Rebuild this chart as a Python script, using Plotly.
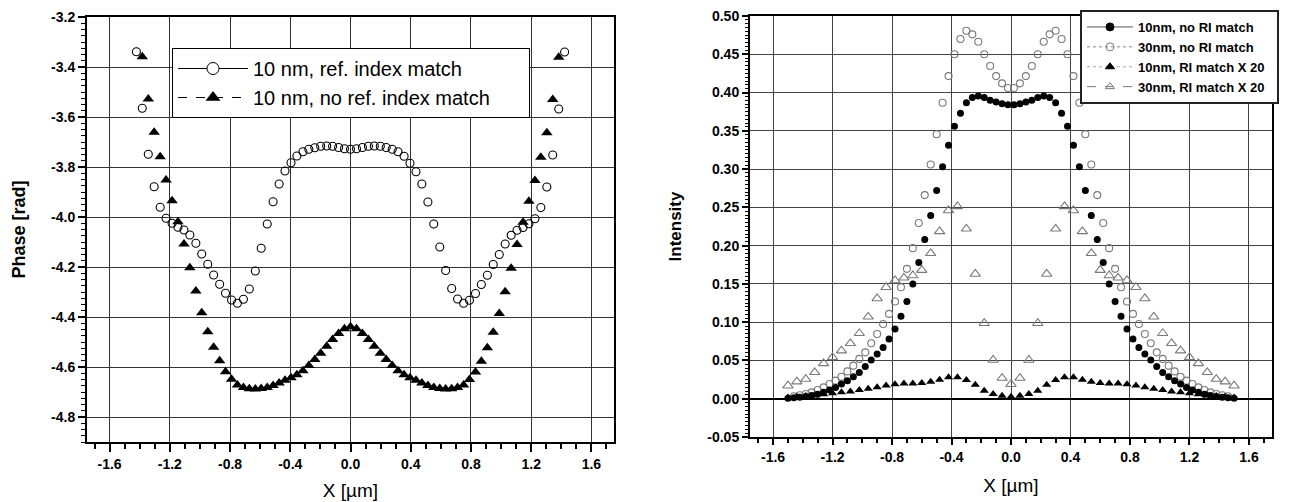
import plotly.graph_objects as go

# ---------------- data: left panel (phase) ----------------
XL_CIRC = [-1.422, -1.383, -1.343, -1.304, -1.264, -1.225, -1.185, -1.146, -1.106, -1.067,
           -1.027, -0.988, -0.948, -0.909, -0.869, -0.830, -0.790, -0.751, -0.711, -0.672,
           -0.632, -0.593, -0.553, -0.514, -0.474, -0.435, -0.395, -0.356, -0.316, -0.277,
           -0.237, -0.198, -0.158, -0.119, -0.079, -0.040, 0.000, 0.040, 0.079, 0.119,
           0.158, 0.198, 0.237, 0.277, 0.316, 0.356, 0.395, 0.435, 0.474, 0.514,
           0.553, 0.593, 0.632, 0.672, 0.711, 0.751, 0.790, 0.830, 0.869, 0.909,
           0.948, 0.988, 1.027, 1.067, 1.106, 1.146, 1.185, 1.225, 1.264, 1.304,
           1.343, 1.383, 1.422]
YL_CIRC = [-3.339, -3.565, -3.749, -3.879, -3.961, -4.005, -4.025, -4.041, -4.052, -4.072,
           -4.105, -4.148, -4.189, -4.232, -4.269, -4.305, -4.332, -4.345, -4.329, -4.288,
           -4.216, -4.125, -4.028, -3.939, -3.868, -3.816, -3.783, -3.756, -3.739, -3.729,
           -3.723, -3.717, -3.716, -3.717, -3.722, -3.727, -3.729, -3.727, -3.722, -3.717,
           -3.716, -3.717, -3.722, -3.729, -3.739, -3.757, -3.785, -3.819, -3.868, -3.940,
           -4.028, -4.120, -4.214, -4.286, -4.328, -4.345, -4.333, -4.306, -4.270, -4.233,
           -4.190, -4.150, -4.108, -4.073, -4.053, -4.042, -4.027, -4.007, -3.962, -3.880,
           -3.752, -3.568, -3.340]

XL_TRI = [-1.383, -1.343, -1.304, -1.264, -1.225, -1.185, -1.146, -1.106, -1.067,
          -1.027, -0.988, -0.948, -0.909, -0.869, -0.830, -0.790, -0.751, -0.711, -0.672,
          -0.632, -0.593, -0.553, -0.514, -0.474, -0.435, -0.395, -0.356, -0.316, -0.277,
          -0.237, -0.198, -0.158, -0.119, -0.079, -0.040, 0.000, 0.040, 0.079, 0.119,
          0.158, 0.198, 0.237, 0.277, 0.316, 0.356, 0.395, 0.435, 0.474, 0.514,
          0.553, 0.593, 0.632, 0.672, 0.711, 0.751, 0.790, 0.830, 0.869, 0.909,
          0.948, 0.988, 1.027, 1.067, 1.106, 1.146, 1.185, 1.225, 1.264, 1.304,
          1.343, 1.383]
YL_TRI = [-3.359, -3.528, -3.661, -3.759, -3.852, -3.935, -4.019, -4.108, -4.203, -4.296,
          -4.383, -4.459, -4.521, -4.575, -4.619, -4.649, -4.672, -4.682, -4.687, -4.688,
          -4.686, -4.682, -4.674, -4.664, -4.653, -4.643, -4.631, -4.615, -4.594, -4.570,
          -4.545, -4.517, -4.490, -4.466, -4.447, -4.439, -4.447, -4.466, -4.490, -4.517,
          -4.545, -4.570, -4.594, -4.615, -4.631, -4.643, -4.653, -4.664, -4.674, -4.682,
          -4.686, -4.688, -4.687, -4.682, -4.672, -4.650, -4.620, -4.577, -4.523, -4.461,
          -4.386, -4.299, -4.205, -4.110, -4.021, -3.937, -3.854, -3.761, -3.663, -3.530,
          -3.361]

L_NAMES = ["10 nm, ref. index match", "10 nm, no ref. index match"]
L_XTICKS = [-1.6, -1.2, -0.8, -0.4, 0.0, 0.4, 0.8, 1.2, 1.6]
L_XTEXT = ["-1.6", "-1.2", "-0.8", "-0.4", "0.0", "0.4", "0.8", "1.2", "1.6"]
L_YTICKS = [-4.8, -4.6, -4.4, -4.2, -4.0, -3.8, -3.6, -3.4, -3.2]
L_YTEXT = ["-4.8", "-4.6", "-4.4", "-4.2", "-4.0", "-3.8", "-3.6", "-3.4", "-3.2"]

# ---------------- data: right panel (intensity) ----------------
XR_DOT = [-1.50, -1.46, -1.42, -1.38, -1.34, -1.30, -1.26, -1.22, -1.18, -1.14, -1.10, -1.06,
          -1.02, -0.98, -0.94, -0.90, -0.86, -0.82, -0.78, -0.74, -0.70, -0.66, -0.62, -0.58,
          -0.54, -0.50, -0.46, -0.42, -0.38, -0.34, -0.30, -0.26, -0.22, -0.18, -0.14, -0.10,
          -0.06, -0.02, 0.02, 0.06, 0.10, 0.14, 0.18, 0.22, 0.26, 0.30, 0.34, 0.38, 0.42,
          0.46, 0.50, 0.54, 0.58, 0.62, 0.66, 0.70, 0.74, 0.78, 0.82, 0.86, 0.90, 0.94, 0.98,
          1.02, 1.06, 1.10, 1.14, 1.18, 1.22, 1.26, 1.30, 1.34, 1.38, 1.42, 1.46, 1.50]
YR_10_NORI = [0.0005, 0.0012, 0.002, 0.003, 0.0042, 0.0058, 0.0083, 0.0113, 0.0148, 0.0192,
              0.0236, 0.0288, 0.0344, 0.042, 0.0506, 0.0585, 0.067, 0.078, 0.0912, 0.1077,
              0.127, 0.150, 0.178, 0.208, 0.2395, 0.272, 0.303, 0.331, 0.356, 0.373,
              0.3866, 0.3935, 0.3955, 0.3935, 0.390, 0.3875, 0.3853, 0.384,
              0.384, 0.3853, 0.3875, 0.390, 0.3935, 0.3955, 0.3935, 0.3866, 0.373, 0.356,
              0.331, 0.303, 0.272, 0.2395, 0.208, 0.178, 0.150, 0.127, 0.1077, 0.0912,
              0.078, 0.067, 0.0585, 0.0506, 0.042, 0.0344, 0.0288, 0.0236, 0.0192, 0.0148,
              0.0113, 0.0083, 0.0058, 0.0042, 0.003, 0.002, 0.0012, 0.0005]

XR_OC = [-1.46, -1.42, -1.38, -1.34, -1.30, -1.26, -1.22, -1.18, -1.14, -1.10, -1.06,
         -1.02, -0.98, -0.94, -0.90, -0.86, -0.82, -0.78, -0.74, -0.70, -0.66, -0.62, -0.58,
         -0.54, -0.50, -0.46, -0.42, -0.38, -0.34, -0.30, -0.26, -0.22, -0.18, -0.14, -0.10,
         -0.06, -0.02, 0.02, 0.06, 0.10, 0.14, 0.18, 0.22, 0.26, 0.30, 0.34, 0.38, 0.42,
         0.46, 0.50, 0.54, 0.58, 0.62, 0.66, 0.70, 0.74, 0.78, 0.82, 0.86, 0.90, 0.94, 0.98,
         1.02, 1.06, 1.10, 1.14, 1.18, 1.22, 1.26, 1.30, 1.34, 1.38, 1.42, 1.46]
YR_30_NORI = [0.0033, 0.0045, 0.0061, 0.0083, 0.0114, 0.0148, 0.0192, 0.0236, 0.0288, 0.0357,
              0.0432, 0.052, 0.0606, 0.0724, 0.0846, 0.0977, 0.1108, 0.127, 0.1457, 0.1697,
              0.1967, 0.2295, 0.266, 0.306, 0.3455, 0.3866, 0.4215, 0.450, 0.470, 0.4808,
              0.476, 0.4664, 0.450, 0.4346, 0.4215, 0.412, 0.406,
              0.406, 0.412, 0.4215, 0.4346, 0.450, 0.4664, 0.476, 0.4808, 0.470, 0.450,
              0.4215, 0.3866, 0.3455, 0.306, 0.266, 0.2295, 0.1967, 0.1697, 0.1457, 0.127,
              0.1108, 0.0977, 0.0846, 0.0724, 0.0606, 0.052, 0.0432, 0.0357, 0.0288, 0.0236,
              0.0192, 0.0148, 0.0114, 0.0083, 0.0061, 0.0045, 0.0033]

XR_TRI = [-1.50, -1.44, -1.38, -1.32, -1.26, -1.20, -1.14, -1.08, -1.02, -0.96, -0.90, -0.84,
          -0.78, -0.72, -0.66, -0.60, -0.54, -0.48, -0.42, -0.36, -0.30, -0.24, -0.18, -0.12,
          -0.06, 0.00, 0.06, 0.12, 0.18, 0.24, 0.30, 0.36, 0.42, 0.48, 0.54, 0.60, 0.66, 0.72,
          0.78, 0.84, 0.90, 0.96, 1.02, 1.08, 1.14, 1.20, 1.26, 1.32, 1.38, 1.44, 1.50]
YR_10_RI = [0.0015, 0.0025, 0.0036, 0.0045, 0.0058, 0.0070, 0.0083, 0.0096, 0.0114, 0.0130,
            0.0150, 0.0172, 0.0190, 0.0198, 0.0200, 0.0205, 0.0222, 0.0247, 0.0279, 0.0282,
            0.0245, 0.0183, 0.0105, 0.0061, 0.0039, 0.0026, 0.0039, 0.0061, 0.0105, 0.0183,
            0.0245, 0.0282, 0.0279, 0.0247, 0.0222, 0.0205, 0.0200, 0.0198, 0.0190, 0.0172,
            0.0150, 0.0130, 0.0114, 0.0096, 0.0083, 0.0070, 0.0058, 0.0045, 0.0036, 0.0025,
            0.0015]
YR_30_RI = [0.017, 0.0223, 0.0257, 0.0345, 0.0462, 0.054, 0.0628, 0.0724, 0.0855, 0.107,
            0.131, 0.1457, 0.1545, 0.158, 0.161, 0.168, 0.190, 0.2186, 0.246, 0.2513,
            0.222, 0.163, 0.0986, 0.0506, 0.027, 0.019, 0.027, 0.0506, 0.0986, 0.163,
            0.222, 0.2513, 0.246, 0.2186, 0.190, 0.168, 0.161, 0.158, 0.1545, 0.1457,
            0.131, 0.107, 0.0855, 0.0724, 0.0628, 0.054, 0.0462, 0.0345, 0.0257, 0.0223,
            0.017]

R_NAMES = ["10nm, no RI match", "30nm, no RI match", "10nm, RI match X 20", "30nm, RI match X 20"]
R_XTICKS = L_XTICKS
R_XTEXT = L_XTEXT
R_YTICKS = [-0.05, 0.00, 0.05, 0.10, 0.15, 0.20, 0.25, 0.30, 0.35, 0.40, 0.45, 0.50]
R_YTEXT = ["-0.05", "0.00", "0.05", "0.10", "0.15", "0.20", "0.25", "0.30", "0.35", "0.40",
           "0.45", "0.50"]

FONT = "Liberation Sans, Arial, sans-serif"
GRAY = "#7a7a7a"

# The page body has an 8px default margin; the figure is sized to fill the rest
OFF = 8
W, H = 1290 - OFF, 502 - OFF


def px_x(p):
    return (p - OFF) / W


def px_y(p):
    return 1 - (p - OFF) / H


def bold(labels):
    return ["<b>%s</b>" % t for t in labels]


fig = go.Figure()

# left panel data
fig.add_trace(go.Scatter(x=XL_TRI, y=YL_TRI, mode="markers", showlegend=False,
                         marker=dict(symbol="triangle-up", size=10, color="black"),
                         xaxis="x", yaxis="y"))
fig.add_trace(go.Scatter(x=XL_CIRC, y=YL_CIRC, mode="markers", showlegend=False,
                         marker=dict(symbol="circle-open", size=8, color="black",
                                     line=dict(width=1.1, color="black")),
                         xaxis="x", yaxis="y"))
# left legend entries
PAD = "\u00a0" * 6
fig.add_trace(go.Scatter(x=[None], y=[None], mode="lines+markers", name=L_NAMES[0] + PAD,
                         line=dict(color="black", width=1, dash="solid"),
                         marker=dict(symbol="circle", size=12, color="white",
                                     line=dict(width=1, color="black")),
                         xaxis="x", yaxis="y", legend="legend"))
fig.add_trace(go.Scatter(x=[None], y=[None], mode="lines+markers", name=L_NAMES[1] + PAD,
                         line=dict(color="black", width=1, dash="dash"),
                         marker=dict(symbol="triangle-up", size=13, color="black"),
                         xaxis="x", yaxis="y", legend="legend"))

# right panel data
fig.add_trace(go.Scatter(x=XR_TRI, y=YR_30_RI, mode="markers", showlegend=False,
                         marker=dict(symbol="triangle-up-open", size=9, color=GRAY,
                                     line=dict(width=1.1, color=GRAY)),
                         xaxis="x2", yaxis="y2"))
fig.add_trace(go.Scatter(x=XR_OC, y=YR_30_NORI, mode="markers", showlegend=False,
                         marker=dict(symbol="circle-open", size=7, color=GRAY,
                                     line=dict(width=1.1, color=GRAY)),
                         xaxis="x2", yaxis="y2"))
fig.add_trace(go.Scatter(x=XR_TRI, y=YR_10_RI, mode="markers", showlegend=False,
                         marker=dict(symbol="triangle-up", size=8, color="black"),
                         xaxis="x2", yaxis="y2"))
fig.add_trace(go.Scatter(x=XR_DOT, y=YR_10_NORI, mode="markers", showlegend=False,
                         marker=dict(symbol="circle", size=7, color="black"),
                         xaxis="x2", yaxis="y2"))
# right legend entries
r_styles = [
    dict(dash="solid", sym="circle", col="black", lc="#555555"),
    dict(dash="dot", sym="circle-open", col=GRAY, lc="#888888"),
    dict(dash="dot", sym="triangle-up", col="black", lc="#aaaaaa"),
    dict(dash="dash", sym="triangle-up-open", col=GRAY, lc="#777777"),
]
for name, st in zip(R_NAMES, r_styles):
    fig.add_trace(go.Scatter(x=[None], y=[None], mode="lines+markers",
                             name="<b>%s</b>\u00a0\u00a0" % name,
                             line=dict(color=st["lc"], width=1, dash=st["dash"]),
                             marker=dict(symbol=st["sym"], size=8, color=st["col"],
                                         line=dict(width=1, color=st["col"])),
                             xaxis="x2", yaxis="y2", legend="legend2"))

axis_common = dict(showline=True, linecolor="black", linewidth=2, mirror=True,
                   ticks="outside", tickcolor="black", tickwidth=1.5,
                   showgrid=True, tickmode="array", automargin=False,
                   ticklabeloverflow="allow",
                   tickfont=dict(family=FONT, size=14, color="black"))

fig.update_layout(
    template="none",
    width=W, height=H, margin=dict(l=0, r=0, t=0, b=0, pad=0, autoexpand=False),
    paper_bgcolor="white", plot_bgcolor="white",
    font=dict(family=FONT, color="black"),
    xaxis=dict(**axis_common, domain=[px_x(87), px_x(614)], range=[-1.75, 1.75],
               zeroline=False,
               tickvals=L_XTICKS, ticktext=bold(L_XTEXT), ticklen=8,
               gridcolor="#333333", gridwidth=1,
               minor=dict(tickmode="linear", tick0=0, dtick=0.1, ticks="outside", ticklen=5,
                          tickcolor="black", tickwidth=1.5, showgrid=False),
               title=dict(text="X [\u00b5m]", font=dict(family=FONT, size=19), standoff=13),
               anchor="y"),
    yaxis=dict(**axis_common, domain=[px_y(442), px_y(17)], range=[-4.9, -3.2],
               zeroline=False,
               tickvals=L_YTICKS, ticktext=bold(L_YTEXT), ticklen=7,
               gridcolor="#333333", gridwidth=1,
               minor=dict(tickmode="linear", tick0=0, dtick=0.025, ticks="outside", ticklen=4,
                          tickcolor="black", tickwidth=1, showgrid=False),
               title=dict(text="<b>Phase [rad]</b>", font=dict(family=FONT, size=18),
                          standoff=21),
               anchor="x"),
    xaxis2=dict(**axis_common, domain=[px_x(750), px_x(1272)], range=[-1.755, 1.755],
                zeroline=False,
                tickvals=R_XTICKS, ticktext=bold(R_XTEXT), ticklen=6,
                gridcolor="#444444", gridwidth=1,
                minor=dict(tickmode="linear", tick0=0, dtick=0.1, ticks="outside", ticklen=4,
                           tickcolor="black", tickwidth=1.5, showgrid=False),
                title=dict(text="X [\u00b5m]", font=dict(family=FONT, size=19), standoff=15),
                anchor="y2"),
    yaxis2=dict(**axis_common, domain=[px_y(437), px_y(16)], range=[-0.05, 0.50],
                tickvals=R_YTICKS, ticktext=bold(R_YTEXT), ticklen=6,
                gridcolor="#444444", gridwidth=1,
                zeroline=True, zerolinecolor="black", zerolinewidth=1.5,
                minor=dict(tickmode="linear", tick0=0, dtick=0.005, ticks="outside", ticklen=3,
                           tickcolor="black", tickwidth=1, showgrid=False),
                title=dict(text="<b>Intensity</b>", font=dict(family=FONT, size=17),
                           standoff=21),
                anchor="x2"),
    legend=dict(x=px_x(172), y=px_y(48), xanchor="left", yanchor="top",
                bgcolor="white", bordercolor="black", borderwidth=1,
                font=dict(family=FONT, size=20, color="black"), itemwidth=70,
                tracegroupgap=0),
    legend2=dict(x=px_x(1080), y=px_y(10), xanchor="left", yanchor="top",
                 bgcolor="white", bordercolor="#222222", borderwidth=2,
                 font=dict(family=FONT, size=13, color="black"), itemwidth=46,
                 tracegroupgap=0),
)

fig.write_html("out.html")
